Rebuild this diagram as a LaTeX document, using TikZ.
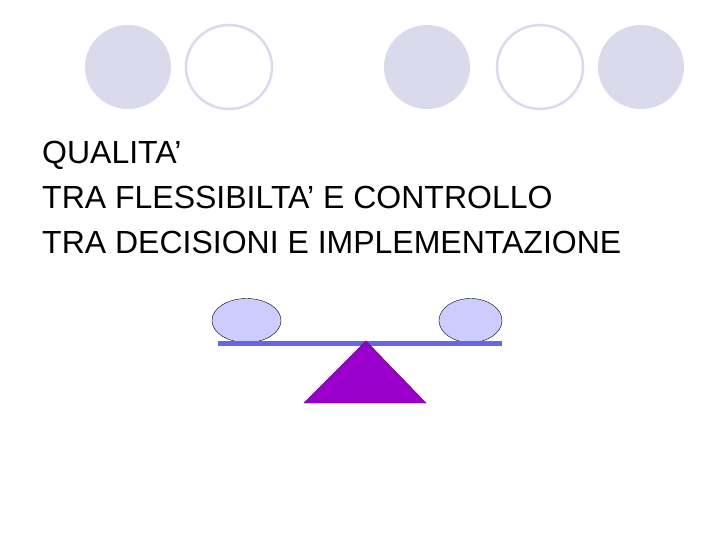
\documentclass[tikz,border=0pt]{standalone}
\usepackage{fontspec}
\setmainfont{Liberation Sans}
\usepackage{xcolor}
\usepackage{tikz}
\usetikzlibrary{shapes.geometric}
\definecolor{lavender}{RGB}{218,218,236}
\definecolor{pan}{RGB}{204,204,255}
\definecolor{beam}{RGB}{102,102,230}
\definecolor{fulcrum}{RGB}{153,0,204}

\begin{document}
\begin{tikzpicture}[x=1pt, y=-1pt,
    dot/.style = {ellipse, minimum width=86pt, minimum height=84pt, inner sep=0pt},
    full/.style = {dot, fill=lavender},
    ring/.style = {dot, draw=lavender, line width=2.5pt},
    pan/.style = {ellipse, draw, fill=pan, thin, inner sep=0pt, minimum height=44pt},
    line/.style = {anchor=base west, inner sep=0pt, font=\fontsize{32}{36}\selectfont}]
    \useasboundingbox (0,0) rectangle (720,540);
    \node[full] (c1) at (128,67) {};
    \node[ring] (c2) at (229,67) {};
    \node[full] (c3) at (427,67) {};
    \node[ring] (c4) at (540,67) {};
    \node[full] (c5) at (641,67) {};
    \node[line] (t1) at (42,164) {QUALITA’};
    \node[line] (t2) at (42,209) {TRA FLESSIBILTA’ E CONTROLLO};
    \node[line] (t3) at (42,254) {TRA DECISIONI E IMPLEMENTAZIONE};
    \node[pan, minimum width=69pt] (left) at (246.5,320.5) {};
    \node[pan, minimum width=63pt] (right) at (470.5,320.5) {};
    \draw[beam, line width=5pt] (218,343) -- (502,343);
    \draw[fulcrum!60!black, fill=fulcrum, thin] (366,341) -- (426,403) -- (304,403) -- cycle;
\end{tikzpicture}
\end{document}
